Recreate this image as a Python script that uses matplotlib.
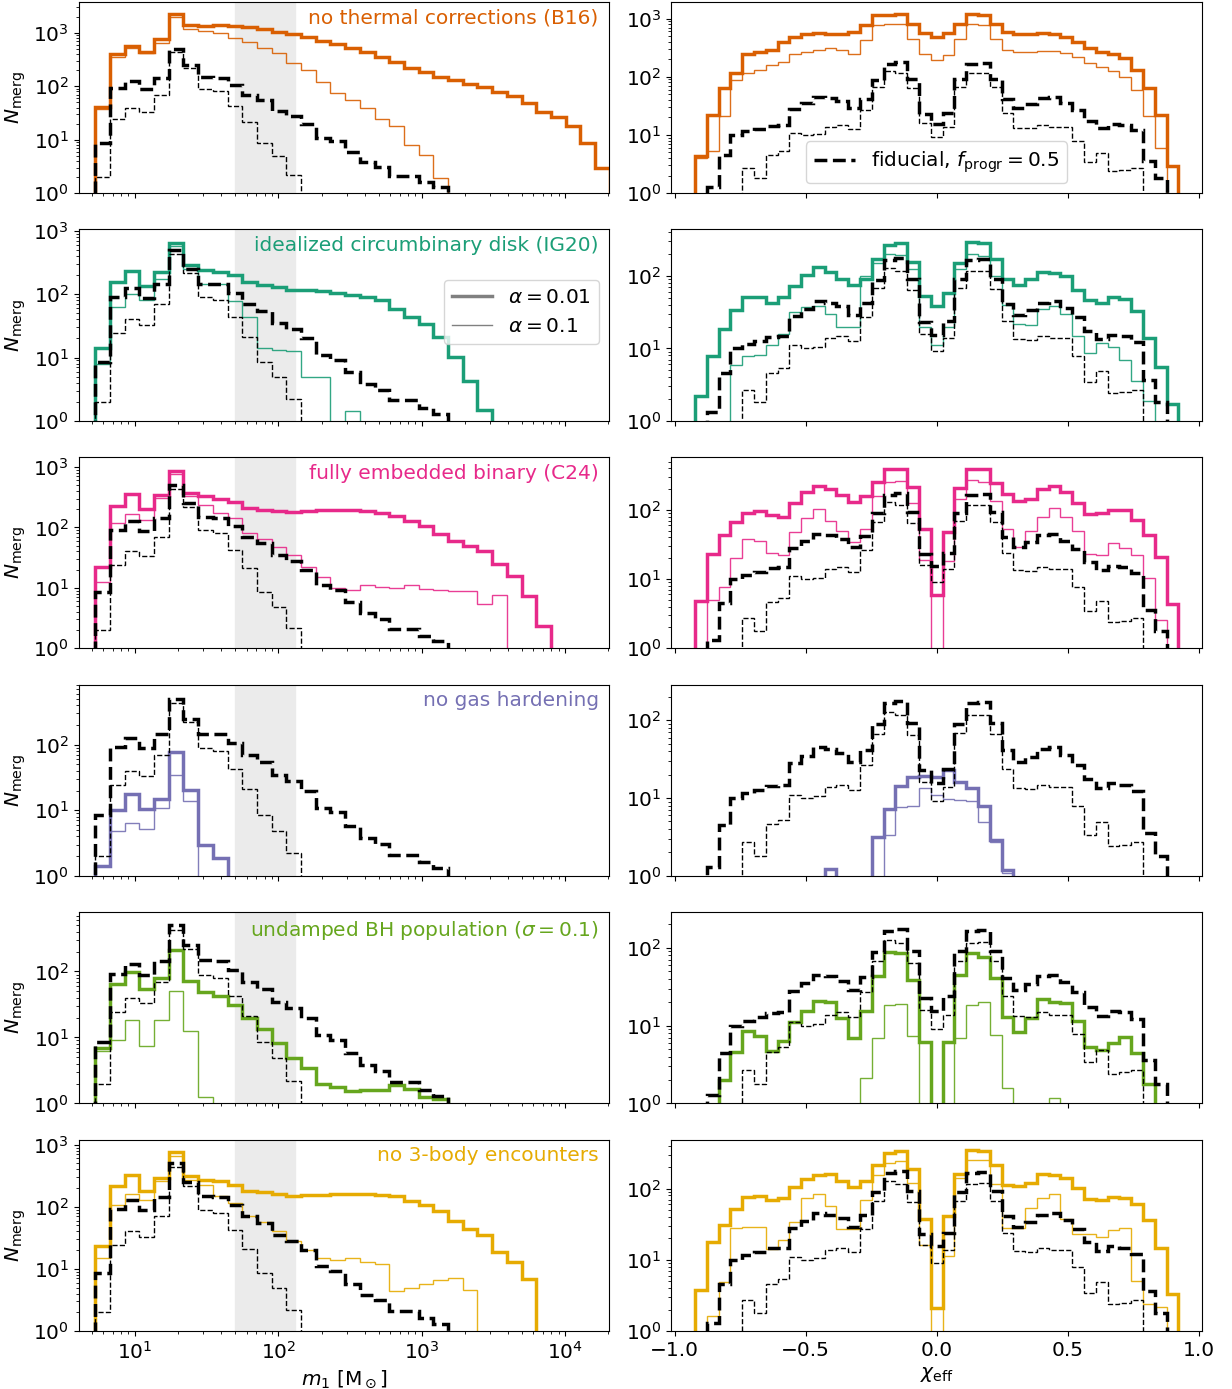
import numpy as np
import matplotlib
matplotlib.use("Agg")
import matplotlib.pyplot as plt
from matplotlib.lines import Line2D

plt.rcParams["font.size"] = 14.5

# histogram bin edges (log-spaced primary mass, linear effective spin)
m1_edges = 10 ** (0.723 + 0.1025 * np.arange(36))
chi_edges = np.linspace(-1.0125, 1.0125, 46)

# fiducial model (f_progr = 0.5), alpha = 0.01 (thick) and alpha = 0.1 (thin)
fid_m1_thick = [8.5, 92, 128, 88, 145, 500, 250, 148, 145, 106, 70, 55, 35, 28, 20, 11, 9.3, 5.8,
                3.8, 3.1, 2.1, 2.1, 1.6, 1.3]
fid_m1_thin = [2.0, 24, 40, 33, 70, 430, 220, 90, 80, 43, 21, 8.6, 4.9, 2.2]
fid_chi_thick = [0, 0, 0, 1.3, 4.5, 10, 11.6, 12.8, 14.4, 14.8, 28, 35, 45, 43, 38, 29, 42, 89, 166, 177,
                 92, 23, 15.5, 24, 91, 166, 171, 92, 41, 29, 34, 43, 45, 36, 27, 17.5, 13.4, 15.5, 14.8, 12.2,
                 3.6, 1.8]
fid_chi_thin = [0, 0, 0, 0, 0, 0, 2.7, 1.8, 4.6, 5.3, 11, 10, 10.5, 13.8, 14.8, 12.8, 26.7, 67.6, 128, 116,
                64, 15.9, 9.1, 13.8, 68, 116, 118, 67, 24, 13.4, 13, 14.8, 13.8, 13.8, 7.8, 3.4, 4.9, 2.4, 2.5, 2.7]

# no thermal corrections (B16)
b16_m1_thick = [41, 402, 574, 431, 753, 2228, 1390, 1330, 1430, 1330, 1260, 1155, 1030, 933, 820, 711, 608,
                527, 431, 348, 281, 217, 181, 152, 132, 110, 96, 77, 65, 49, 33, 27, 18, 8.7, 2.9]
b16_m1_thin = [37, 350, 510, 413, 635, 1990, 1155, 1090, 973, 785, 681, 527, 413, 270, 200, 118, 75, 55,
               40, 24, 18, 8, 5.1, 1.95]
b16_chi_thick = [0, 0, 4.4, 22, 63, 117, 251, 268, 294, 398, 485, 553, 568, 538, 553, 591, 769, 1140, 1140,
                 1218, 821, 568, 485, 575, 821, 1218, 1140, 821, 591, 553, 533, 575, 553, 485, 398, 306, 268,
                 251, 206, 130, 63, 22, 2.9]
b16_chi_thin = [0, 0, 4, 5.2, 21, 88, 117, 130, 158, 181, 245, 268, 287, 306, 287, 251, 425, 769, 800, 821,
                454, 251, 193, 235, 454, 800, 790, 454, 287, 268, 268, 278, 275, 255, 220, 175, 150, 125, 100,
                60, 21, 6]

# idealized circumbinary disk (IG20)
ig20_m1_thick = [14, 159, 236, 133, 222, 641, 293, 242, 222, 202, 155, 141, 129, 119, 115, 111, 104, 96, 92,
                 80, 59, 44, 34, 21, 10.3, 4.2, 1.5]
ig20_m1_thin = [7.8, 64, 102, 80, 175, 582, 251, 146, 146, 77, 44, 14, 13, 12.5, 5, 5, 0, 1.4]
ig20_chi_thick = [0, 0, 2.2, 7.9, 18.6, 34, 51, 51, 42, 52, 73, 103, 134, 115, 90, 75, 90, 170, 267, 288,
                  157, 53, 39, 58, 153, 297, 288, 170, 90, 75, 90, 115, 110, 100, 65, 47, 42, 52, 48, 33,
                  14, 5.6, 1.7]
ig20_chi_thin = [0, 0, 0, 0, 0, 5.8, 7.8, 8.2, 11.2, 16, 32, 37, 39, 30, 20, 20, 100, 150, 200, 195,
                 125, 20, 11, 20, 125, 200, 190, 100, 40, 22, 21, 35, 38, 30, 15, 8.5, 12, 10.5, 7, 3.5, 1.9]

# fully embedded binary (C24)
c24_m1_thick = [22, 224, 355, 205, 346, 851, 368, 333, 294, 263, 210, 197, 190, 181, 185, 192, 195, 192,
                185, 174, 154, 127, 106, 79, 60, 50, 41, 25, 15.6, 7.2, 2.3]
c24_m1_thin = [12.3, 120, 164, 132, 305, 751, 325, 238, 175, 145, 82, 65, 48, 35, 22, 15, 10, 9.2, 11,
               10.4, 10, 11, 9.6, 9.2, 8.7, 8.9, 5.3, 7.5]
c24_chi_thick = [0, 0, 4.8, 23, 44, 67, 91, 96, 83, 80, 126, 179, 218, 200, 166, 129, 160, 249, 386, 395,
                 211, 53, 5.8, 48, 204, 386, 395, 241, 169, 133, 144, 200, 218, 179, 125, 88, 91, 98, 100,
                 72, 44, 21, 4.3]
c24_chi_thin = [0, 0, 0, 5.0, 7.8, 20, 38, 36, 24, 22, 48, 76, 103, 70, 49, 34, 53, 160, 249, 263,
                125, 19, 0, 18, 144, 269, 257, 136, 53, 29, 49, 79, 106, 79, 50, 23, 22, 33, 28, 22,
                10.3, 2.6]

# no gas hardening
nogas_m1_thick = [1.4, 10, 18, 10.4, 15, 76, 20.6, 3.0, 1.9]
nogas_m1_thin = [1.4, 4.9, 6.4, 5.2, 10.8, 35, 13.6]
nogas_chi_thick = [0, 0, 0, 0, 0, 0, 0, 0, 0, 0, 0, 0, 0, 1.24, 0, 0, 0, 3.2, 7.2, 14.4,
                   18.9, 19.3, 18.9, 23, 16.3, 13.4, 7.8, 2.9, 1.19]
nogas_chi_thin = [0, 0, 0, 0, 0, 0, 0, 0, 0, 0, 0, 0, 0, 0, 0, 0, 0, 0, 3.4, 7.6,
                  8.0, 13.4, 10.8, 9.7, 9.5, 9.3, 4.9, 2.7, 1.1]

# undamped BH population (sigma = 0.1)
und_m1_thick = [6.8, 65, 98, 55, 79, 211, 73, 49, 43, 31, 20, 13.5, 8.2, 4.8, 3.5, 1.95, 1.8, 1.55, 1.62,
                1.6, 1.88, 1.64, 1.26, 1.16]
und_m1_thin = [6.2, 9.2, 18.4, 7.3, 18.4, 50, 12.6, 1.26]
und_chi_thick = [0, 0, 0, 0, 2.0, 4.6, 8.5, 7.3, 4.7, 6.3, 11.1, 15.5, 20.9, 20.4, 12.5, 7.0, 15.5, 43, 89, 85,
                 39, 6.1, 0, 6.1, 45, 85, 77, 41, 13, 8.2, 12.5, 22, 20.4, 19.5, 11.4, 5.3, 4.8, 6.0, 7.2, 4.4,
                 1.8]
und_chi_thin = [0, 0, 0, 0, 0, 0, 0, 0, 0, 0, 0, 0, 0, 0, 0, 0, 2.1, 7.0, 18.5, 19,
                7.3, 0, 0, 0, 7, 18.5, 20, 7.5, 1.6, 0, 0, 0, 1.19]

# no 3-body encounters
n3b_m1_thick = [23, 213, 320, 181, 290, 762, 309, 272, 256, 226, 177, 170, 160, 150, 153, 156, 159, 160,
                159, 156, 147, 125, 105, 86, 58, 44, 34.5, 18.6, 12.8, 6.9]
n3b_m1_thin = [15, 108, 160, 130, 256, 650, 272, 226, 150, 114, 72, 56, 40, 28, 20, 15, 14, 15, 13, 12,
               4.4, 5.0, 5.8, 6.5, 7.2, 4.5]
n3b_chi_thick = [0, 0, 3.7, 18, 31, 52, 76, 78, 69, 74, 104, 138, 157, 161, 127, 104, 127, 217, 316, 341,
                 191, 37, 2.1, 41, 161, 352, 341, 217, 114, 108, 120, 162, 154, 141, 102, 72, 70, 76, 74, 61,
                 36, 14.7, 3.3]
n3b_chi_thin = [0, 0, 0, 1.6, 4.8, 28, 29, 29, 14.3, 19, 34, 74, 84, 57, 27, 27, 70, 157, 229, 242,
                120, 16, 0, 11.2, 141, 255, 249, 116, 28, 28, 54, 74, 84, 37, 23, 23, 21, 26.6, 27.5, 5.0,
                2.4, 2.2]

labels = ["no thermal corrections (B16)", "idealized circumbinary disk (IG20)",
          "fully embedded binary (C24)", "no gas hardening",
          r"undamped BH population ($\sigma = 0.1$)", "no 3-body encounters"]
colors = ["#d95f02", "#1b9e77", "#e7298a", "#7570b3", "#66a61e", "#e6ab02"]
m1_series = [(b16_m1_thick, b16_m1_thin), (ig20_m1_thick, ig20_m1_thin), (c24_m1_thick, c24_m1_thin),
             (nogas_m1_thick, nogas_m1_thin), (und_m1_thick, und_m1_thin), (n3b_m1_thick, n3b_m1_thin)]
chi_series = [(b16_chi_thick, b16_chi_thin), (ig20_chi_thick, ig20_chi_thin), (c24_chi_thick, c24_chi_thin),
              (nogas_chi_thick, nogas_chi_thin), (und_chi_thick, und_chi_thin), (n3b_chi_thick, n3b_chi_thin)]
m1_ylim_top = [3780, 1060, 1455, 824, 794, 1203]
chi_ylim_top = [1930, 439, 580, 288, 288, 486]


def full(vals, edges):
    # empty bins past the last filled one
    out = np.zeros(len(edges) - 1)
    out[:len(vals)] = vals
    return out


def step(ax, vals, edges, **kw):
    centers = np.sqrt(edges[:-1] * edges[1:]) if edges[0] > 0 else 0.5 * (edges[:-1] + edges[1:])
    ax.hist(centers, bins=edges, weights=full(vals, edges), histtype="step", **kw)


fig, axes = plt.subplots(6, 2, figsize=(12.32, 13.89), dpi=100)
fig.subplots_adjust(left=0.064, right=0.9756, top=0.9986, bottom=0.0418, hspace=0.19, wspace=0.117)

for i in range(6):
    axl, axr = axes[i]
    c = colors[i]

    axl.axvspan(50, 130, color="#ebebeb", zorder=0)
    step(axl, m1_series[i][0], m1_edges, color=c, lw=2.5)
    step(axl, m1_series[i][1], m1_edges, color=c, lw=1.0, alpha=0.9)
    step(axl, fid_m1_thick, m1_edges, color="k", lw=2.5, ls="--")
    step(axl, fid_m1_thin, m1_edges, color="k", lw=1.0, ls="--")
    axl.set_xscale("log")
    axl.set_yscale("log")
    axl.set_xlim(4.06, 2.03e4)
    axl.set_ylim(1, m1_ylim_top[i])
    axl.set_ylabel(r"$N_{\rm merg}$")
    axl.text(0.98, 0.965, labels[i], color=c, ha="right", va="top", transform=axl.transAxes)

    step(axr, chi_series[i][0], chi_edges, color=c, lw=2.5)
    step(axr, chi_series[i][1], chi_edges, color=c, lw=1.0, alpha=0.9)
    step(axr, fid_chi_thick, chi_edges, color="k", lw=2.5, ls="--")
    step(axr, fid_chi_thin, chi_edges, color="k", lw=1.0, ls="--")
    axr.set_yscale("log")
    axr.set_xlim(-1.0125, 1.0125)
    axr.set_ylim(1, chi_ylim_top[i])
    axr.set_xticks([-1.0, -0.5, 0.0, 0.5, 1.0])

    if i < 5:
        axl.tick_params(labelbottom=False)
        axr.tick_params(labelbottom=False)

axes[5, 0].set_xlabel(r"$m_1\ [{\rm M}_\odot]$")
axes[5, 1].set_xlabel(r"$\chi_{\rm eff}$")

axes[0, 1].legend(handles=[Line2D([], [], color="k", lw=2.5, ls="--")],
                  labels=[r"fiducial, $f_{\rm progr} = 0.5$"], loc="lower center")
axes[1, 0].legend(handles=[Line2D([], [], color="gray", lw=2.5), Line2D([], [], color="gray", lw=1.0)],
                  labels=[r"$\alpha = 0.01$", r"$\alpha = 0.1$"], loc="center right",
                  bbox_to_anchor=(1.0, 0.57))

fig.savefig("out.png", dpi=100)
